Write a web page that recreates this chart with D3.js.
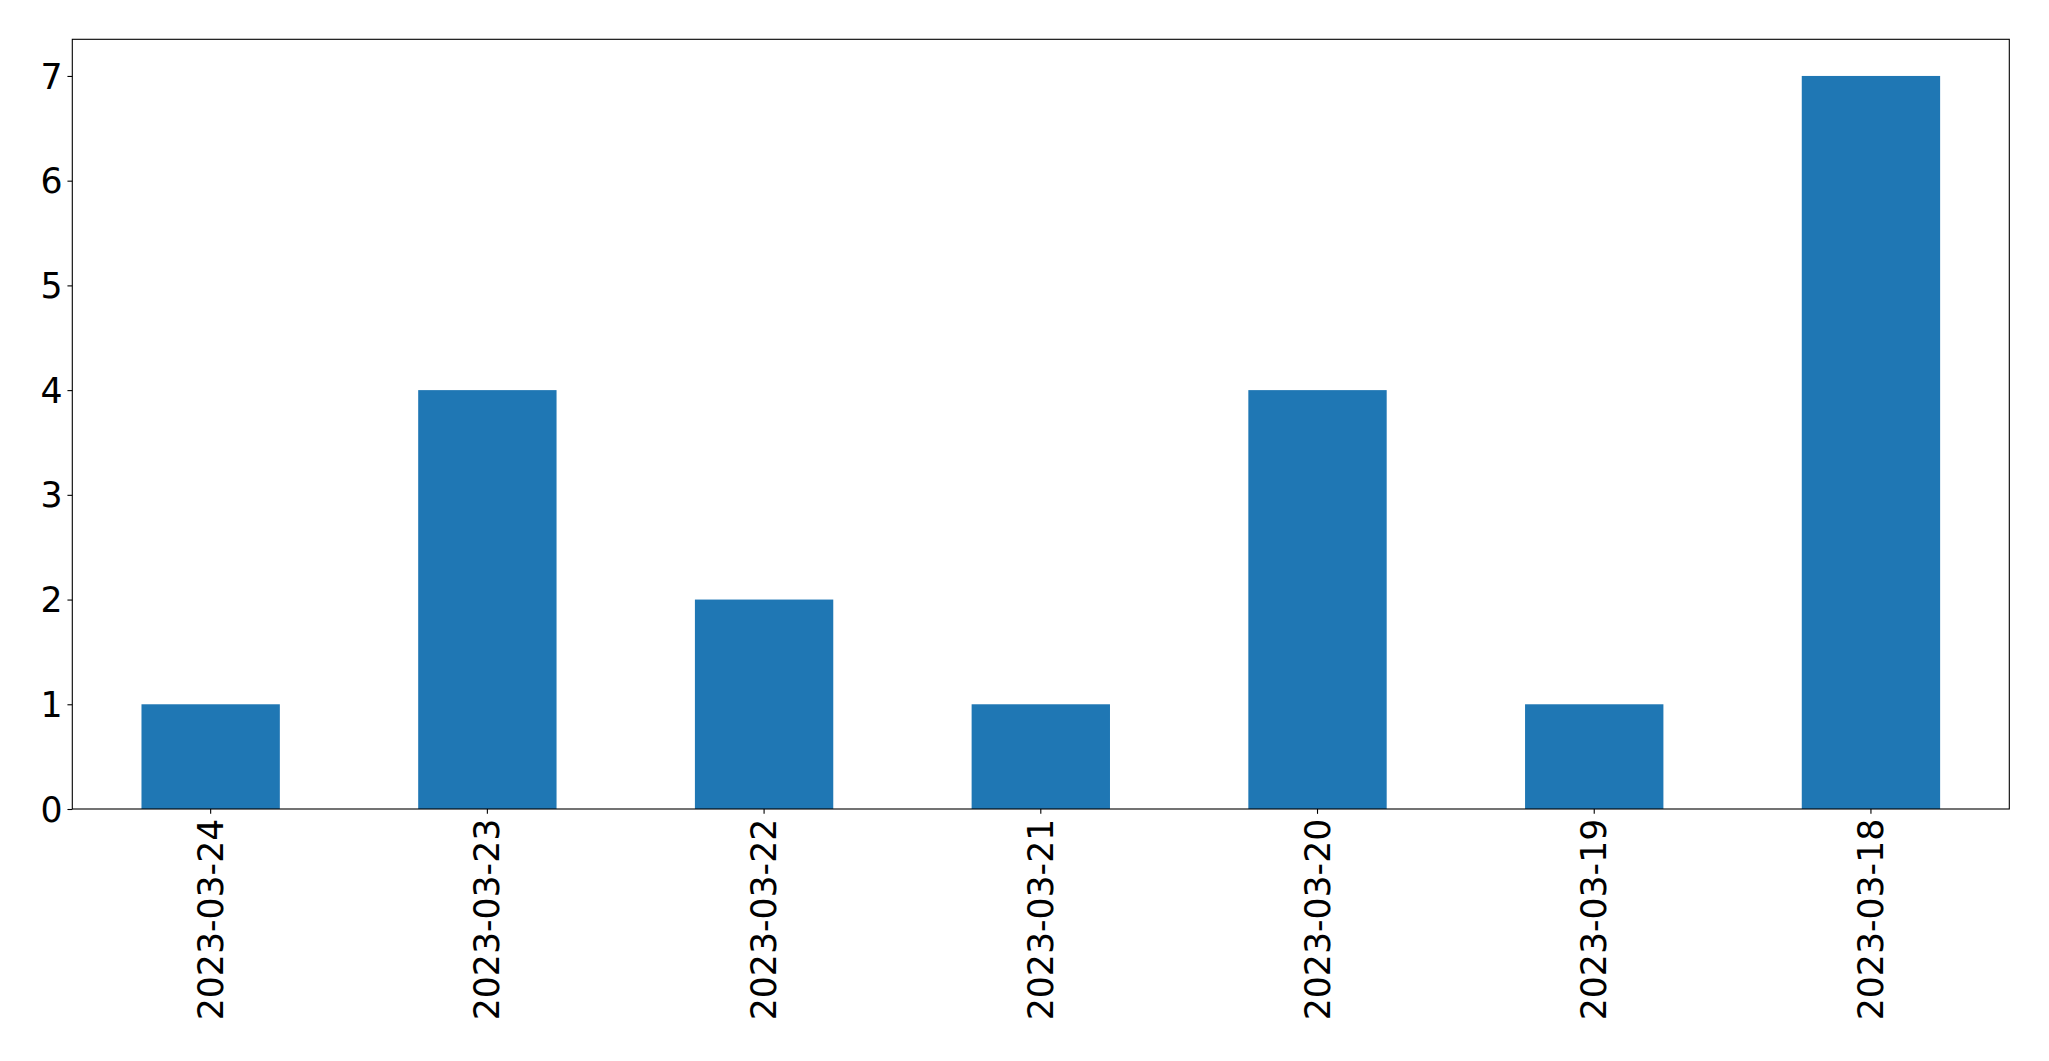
<!DOCTYPE html>
<html>
<head>
<meta charset="utf-8">
<script src="https://cdn.jsdelivr.net/npm/d3@7"></script>
<style>
  html, body { margin: 0; padding: 0; background: #fff; }
  svg { display: block; }
</style>
</head>
<body>
<svg id="chart" width="2049" height="1061"></svg>
<script>
const categories = ["2023-03-24", "2023-03-23", "2023-03-22", "2023-03-21", "2023-03-20", "2023-03-19", "2023-03-18"];
const values = [1, 4, 2, 1, 4, 1, 7];
const yTicks = [0, 1, 2, 3, 4, 5, 6, 7];

(function () {
const plotLeft = 72.3, plotRight = 2009.3, plotTop = 39.3, plotBottom = 809;
const fontSize = 34.7;
const tickLen = 4.86, tickPad = 4.86;
const font = "'DejaVu Sans', sans-serif";

const svg = d3.select("#chart");

const yMax = d3.max(values) * 1.05;
const y = d3.scaleLinear().domain([0, yMax]).range([plotBottom, plotTop]);
const x = d3.scaleBand().domain(categories).range([plotLeft, plotRight]).paddingInner(0.5).paddingOuter(0.25);

// bars
svg.append("g").selectAll("rect")
  .data(values)
  .join("rect")
  .attr("x", (d, i) => x(categories[i]))
  .attr("y", d => y(d))
  .attr("width", x.bandwidth())
  .attr("height", d => y(0) - y(d))
  .attr("fill", "#1f77b4");

// y axis
const yAxis = d3.axisLeft(y).tickValues(yTicks).tickSize(tickLen).tickPadding(tickPad).tickFormat(d3.format("d"));
const gy = svg.append("g").attr("transform", `translate(${plotLeft},0)`).call(yAxis);
gy.select(".domain").remove();
gy.selectAll("line").attr("stroke", "#000").attr("stroke-width", 1.1);
gy.selectAll("text").attr("font-family", font).attr("font-size", fontSize).attr("fill", "#000").attr("dy", "0.35em");

// x axis
const xAxis = d3.axisBottom(x).tickSize(tickLen).tickPadding(tickPad);
const gx = svg.append("g").attr("transform", `translate(0,${plotBottom})`).call(xAxis);
gx.select(".domain").remove();
gx.selectAll("line").attr("stroke", "#000").attr("stroke-width", 1.1);
gx.selectAll("text")
  .attr("font-family", font)
  .attr("font-size", fontSize)
  .attr("fill", "#000")
  .attr("text-anchor", "end")
  .attr("x", 0)
  .attr("y", 0)
  .attr("dy", "0.346em")
  .attr("transform", `translate(0,${tickLen + tickPad}) rotate(-90)`);

// frame
svg.append("rect")
  .attr("x", plotLeft).attr("y", plotTop)
  .attr("width", plotRight - plotLeft).attr("height", plotBottom - plotTop)
  .attr("fill", "none").attr("stroke", "#000").attr("stroke-width", 1.1);
})();
</script>
</body>
</html>
